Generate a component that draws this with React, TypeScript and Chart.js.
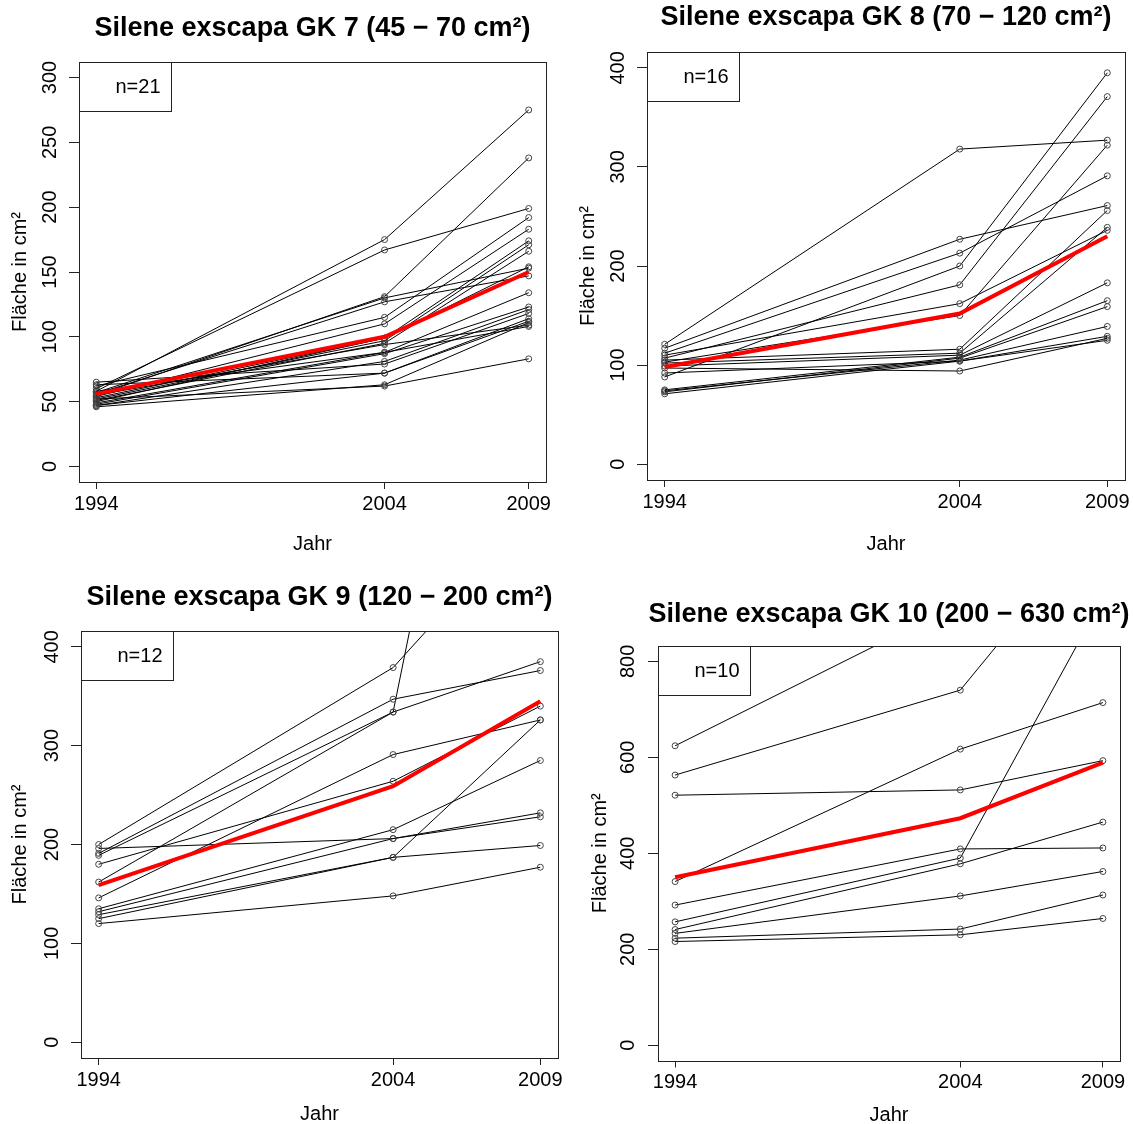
import React, { useEffect, useRef } from 'react';
import { Chart, registerables } from 'chart.js';

Chart.register(...registerables);

const FONT = '"Liberation Sans", Arial, Helvetica, sans-serif';

// ---------- data ----------
const years = [1994, 2004, 2009];
const xAxisTitle = 'Jahr';
const yAxisTitle = 'Fläche in cm²';

// GK 7
const gk7Title = 'Silene exscapa GK 7 (45 − 70 cm²)';
const gk7Legend = 'n=21';
const gk7YTicks = [0, 50, 100, 150, 200, 250, 300];
const gk7Mean = [56, 100, 150];
const gk7Plants = [
  [58, 175, 275],
  [60, 167, 199],
  [55, 131, 238],
  [57, 130, 153],
  [56, 127, 147],
  [62, 115, 192],
  [54, 110, 183],
  [53, 99, 174],
  [52, 97, 171],
  [51, 95, 166],
  [50, 99, 154],
  [49, 88, 134],
  [48, 87, 123],
  [47, 81, 121],
  [65, 79, 118],
  [63, 72, 114],
  [47, 72, 112],
  [46, 63, 111],
  [52, 62, 83],
  [55, 94, 109],
  [58, 88, 108],
];

// GK 8
const gk8Title = 'Silene exscapa GK 8 (70 − 120 cm²)';
const gk8Legend = 'n=16';
const gk8YTicks = [0, 100, 200, 300, 400];
const gk8Mean = [98, 152, 230];
const gk8Plants = [
  [121, 318, 327],
  [117, 227, 261],
  [112, 213, 291],
  [88, 200, 395],
  [107, 181, 371],
  [110, 162, 236],
  [103, 150, 322],
  [105, 116, 256],
  [102, 112, 239],
  [99, 110, 183],
  [75, 108, 165],
  [73, 107, 159],
  [74, 105, 139],
  [97, 94, 127],
  [92, 104, 129],
  [71, 104, 125],
];

// GK 9
const gk9Title = 'Silene exscapa GK 9 (120 − 200 cm²)';
const gk9Legend = 'n=12';
const gk9YTicks = [0, 100, 200, 300, 400];
const gk9Mean = [159, 259, 345];
const gk9Plants = [
  [200, 379, 543],
  [196, 206, 228],
  [191, 347, 376],
  [189, 334, 385],
  [162, 334, 1066],
  [180, 264, 340],
  [146, 291, 326],
  [135, 215, 285],
  [132, 206, 232],
  [129, 187, 326],
  [125, 187, 199],
  [120, 148, 177],
];

// GK 10
const gk10Title = 'Silene exscapa GK 10 (200 − 630 cm²)';
const gk10Legend = 'n=10';
const gk10YTicks = [0, 200, 400, 600, 800];
const gk10Mean = [350, 473, 589];
const gk10Plants = [
  [624, 921, 1000],
  [563, 740, 1102],
  [521, 532, 593],
  [341, 617, 714],
  [292, 409, 411],
  [257, 390, 932],
  [241, 378, 465],
  [233, 311, 362],
  [223, 242, 313],
  [216, 230, 264],
];

// ---------- layout (page pixels) ----------
type PanelCfg = {
  title: string; legend: string; yTicks: number[]; mean: number[]; plants: number[][];
  x: number; y: number; w: number; h: number;
  area: { l: number; t: number; r: number; b: number };
  titleY: number; xTickPad: number; xTitlePad: number; yTickPad: number; yTitlePad: number;
};

const panels: PanelCfg[] = [
  {
    title: gk7Title, legend: gk7Legend, yTicks: gk7YTicks, mean: gk7Mean, plants: gk7Plants,
    x: 0, y: 0, w: 566, h: 562,
    area: { l: 79, t: 62, r: 546, b: 482 },
    titleY: 29, xTickPad: 3, xTitlePad: 6, yTickPad: 2, yTitlePad: 8,
  },
  {
    title: gk8Title, legend: gk8Legend, yTicks: gk8YTicks, mean: gk8Mean, plants: gk8Plants,
    x: 566, y: 0, w: 567, h: 562,
    area: { l: 647, t: 52, r: 1125, b: 480 },
    titleY: 18, xTickPad: 3, xTitlePad: 6, yTickPad: 2, yTitlePad: 10,
  },
  {
    title: gk9Title, legend: gk9Legend, yTicks: gk9YTicks, mean: gk9Mean, plants: gk9Plants,
    x: 0, y: 562, w: 566, h: 562,
    area: { l: 81, t: 631, r: 558, b: 1058 },
    titleY: 598, xTickPad: 3, xTitlePad: -2, yTickPad: 2, yTitlePad: 8,
  },
  {
    title: gk10Title, legend: gk10Legend, yTicks: gk10YTicks, mean: gk10Mean, plants: gk10Plants,
    x: 566, y: 562, w: 567, h: 562,
    area: { l: 658, t: 646, r: 1120, b: 1060.5 },
    titleY: 615, xTickPad: 3, xTitlePad: -3, yTickPad: 3, yTitlePad: 22,
  },
];

const rFrame = {
  id: 'rFrame',
  afterDraw(chart: any, _args: any, opts: any) {
    const { ctx, chartArea } = chart;
    const { left, top, right, bottom } = chartArea;
    ctx.save();
    ctx.strokeStyle = '#222';
    ctx.lineWidth = 1;
    ctx.strokeRect(Math.round(left) + 0.5, Math.round(top) + 0.5, Math.round(right - left), Math.round(bottom - top));
    // legend box (R style)
    ctx.strokeRect(Math.round(left) + 0.5, Math.round(top) + 0.5, 92, 49);
    ctx.fillStyle = '#000';
    ctx.font = `20px ${FONT}`;
    ctx.textAlign = 'center';
    ctx.textBaseline = 'middle';
    ctx.fillText(opts.legend, left + 59, top + 25.5);
    // main title
    ctx.font = `bold 27px ${FONT}`;
    ctx.fillText(opts.title, (left + right) / 2, opts.titleY);
    ctx.restore();
  },
};

function Panel({ cfg }: { cfg: PanelCfg }) {
  const ref = useRef<HTMLCanvasElement>(null);
  useEffect(() => {
    const canvas = ref.current;
    if (!canvas) return;
    const l = cfg.area.l - cfg.x;
    const t = cfg.area.t - cfg.y;
    const r = cfg.area.r - cfg.x;
    const b = cfg.area.b - cfg.y;
    const yLo = cfg.yTicks[0];
    const yHi = cfg.yTicks[cfg.yTicks.length - 1];
    const yPad = 0.04 * (yHi - yLo);
    const xLo = years[0];
    const xHi = years[years.length - 1];
    const xPad = 0.04 * (xHi - xLo);
    const tickFont = { family: FONT, size: 20 };

    const datasets: any[] = [
      {
        label: 'Mittelwert',
        data: years.map((yr, i) => ({ x: yr, y: cfg.mean[i] })),
        borderColor: '#ff0000',
        borderWidth: 4,
        pointRadius: 0,
        tension: 0,
        fill: false,
        order: 0,
      },
      ...cfg.plants.map((p, k) => ({
        label: `Pflanze ${k + 1}`,
        data: years.map((yr, i) => ({ x: yr, y: p[i] })),
        borderColor: '#000',
        borderWidth: 1,
        pointRadius: 3,
        pointBorderWidth: 1,
        pointBorderColor: '#444',
        pointBackgroundColor: 'rgba(0,0,0,0)',
        tension: 0,
        fill: false,
        order: 1,
      })),
    ];

    const chart = new Chart(canvas, {
      type: 'line',
      data: { datasets },
      plugins: [rFrame],
      options: {
        responsive: false,
        animation: false,
        devicePixelRatio: 1,
        events: [],
        layout: { padding: { left: 0, top: t, right: cfg.w - r, bottom: 0 } },
        plugins: {
          legend: { display: false },
          tooltip: { enabled: false },
          title: { display: false },
          rFrame: { title: cfg.title, legend: cfg.legend, titleY: cfg.titleY - cfg.y },
        } as any,
        scales: {
          x: {
            type: 'linear',
            position: 'bottom',
            min: xLo - xPad,
            max: xHi + xPad,
            afterBuildTicks: (s: any) => { s.ticks = years.map((v) => ({ value: v })); },
            afterFit: (s: any) => { s.height = cfg.h - b; },
            ticks: {
              autoSkip: false, minRotation: 0, maxRotation: 0, padding: cfg.xTickPad,
              color: '#000', font: tickFont, callback: (v: any) => String(v),
            },
            grid: { display: true, drawOnChartArea: false, drawTicks: true, tickLength: 7, color: '#222', lineWidth: 1 },
            border: { display: false },
            title: { display: true, text: xAxisTitle, color: '#000', font: tickFont, padding: { top: 0, bottom: cfg.xTitlePad } },
          },
          y: {
            type: 'linear',
            position: 'left',
            min: yLo - yPad,
            max: yHi + yPad,
            afterBuildTicks: (s: any) => { s.ticks = cfg.yTicks.map((v) => ({ value: v })); },
            afterFit: (s: any) => { s.width = l; },
            ticks: {
              autoSkip: false, minRotation: 90, maxRotation: 90, crossAlign: 'center', padding: cfg.yTickPad,
              color: '#000', font: tickFont, callback: (v: any) => String(v),
            },
            grid: { display: true, drawOnChartArea: false, drawTicks: true, tickLength: 10, color: '#222', lineWidth: 1 },
            border: { display: false },
            title: { display: true, text: yAxisTitle, color: '#000', font: tickFont, padding: { top: cfg.yTitlePad, bottom: 0 } },
          },
        } as any,
      },
    } as any);
    return () => chart.destroy();
  }, [cfg]);
  return (
    <canvas
      ref={ref}
      width={cfg.w}
      height={cfg.h}
      style={{ position: 'absolute', left: cfg.x, top: cfg.y, width: cfg.w, height: cfg.h }}
    />
  );
}

export default function App() {
  return (
    <div style={{ position: 'absolute', left: 0, top: 0, width: 1133, height: 1124, background: '#fff', overflow: 'hidden' }}>
      {panels.map((p, i) => (
        <Panel key={i} cfg={p} />
      ))}
    </div>
  );
}
